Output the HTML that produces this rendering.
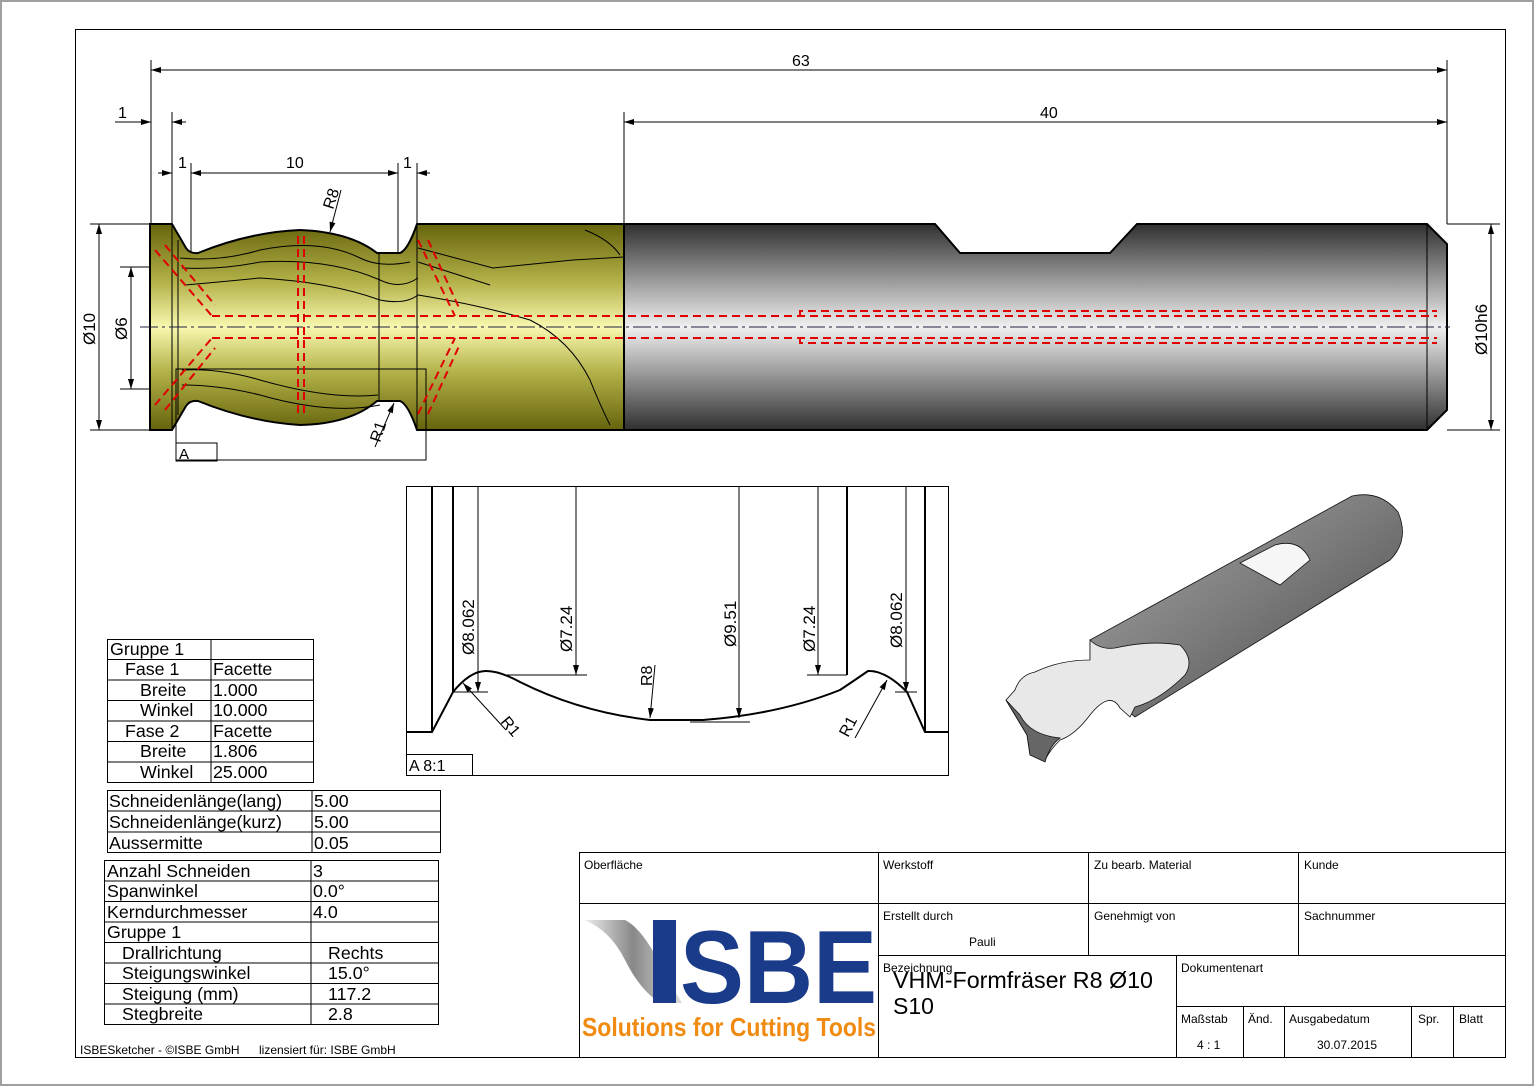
<!DOCTYPE html>
<html><head><meta charset="utf-8"><style>
html,body{margin:0;padding:0;background:#fff}
svg{display:block}
text{font-family:"Liberation Sans",Arial,sans-serif;fill:#000}
</style></head><body>
<svg width="1534" height="1086" viewBox="0 0 1534 1086" xmlns="http://www.w3.org/2000/svg">
<defs>
<linearGradient id="yel" x1="0" y1="0" x2="0" y2="1">
<stop offset="0" stop-color="#66640c"/><stop offset="0.28" stop-color="#b3b148"/><stop offset="0.5" stop-color="#f8f8b0"/><stop offset="0.72" stop-color="#b3b148"/><stop offset="1" stop-color="#66640c"/></linearGradient>
<linearGradient id="gry" x1="0" y1="0" x2="0" y2="1">
<stop offset="0" stop-color="#303030"/><stop offset="0.5" stop-color="#f0f0f0"/><stop offset="1" stop-color="#303030"/></linearGradient>
<linearGradient id="g3" x1="0" y1="0" x2="1" y2="1">
<stop offset="0" stop-color="#aaa"/><stop offset="0.5" stop-color="#7a7a7a"/><stop offset="1" stop-color="#444"/></linearGradient>
<linearGradient id="sw" x1="0" y1="0" x2="1" y2="0">
<stop offset="0" stop-color="#eee"/><stop offset="0.5" stop-color="#888"/><stop offset="1" stop-color="#ddd"/></linearGradient>
<marker id="a" markerWidth="10" markerHeight="6" refX="10" refY="3" orient="auto-start-reverse" markerUnits="userSpaceOnUse"><path d="M0,0 L10,3 L0,6z" fill="#000"/></marker>
</defs>
<rect x="0" y="0" width="1534" height="1086" fill="#fff" stroke="#a0a0a0" stroke-width="4"/>
<rect x="75.5" y="29.5" width="1430" height="1028" fill="none" stroke="#000"/>

<g stroke="#000" stroke-width="1" fill="none">
<line x1="151" y1="60" x2="151" y2="224"/><line x1="1447" y1="60" x2="1447" y2="224"/>
<line x1="151" y1="70" x2="1447" y2="70" marker-start="url(#a)" marker-end="url(#a)"/>
<line x1="624" y1="112" x2="624" y2="224"/>
<line x1="624" y1="122" x2="1447" y2="122" marker-start="url(#a)" marker-end="url(#a)"/>
<line x1="172" y1="112" x2="172" y2="224"/>
<line x1="115" y1="122" x2="151" y2="122" marker-end="url(#a)"/><line x1="186" y1="122" x2="172" y2="122" marker-end="url(#a)"/>
<line x1="191" y1="163" x2="191" y2="265"/><line x1="398" y1="163" x2="398" y2="265"/><line x1="417" y1="163" x2="417" y2="224"/>
<line x1="158" y1="173" x2="172" y2="173" marker-end="url(#a)"/>
<line x1="191" y1="173" x2="398" y2="173" marker-start="url(#a)" marker-end="url(#a)"/>
<line x1="430" y1="173" x2="417" y2="173" marker-end="url(#a)"/>
<line x1="90" y1="224" x2="150" y2="224"/><line x1="90" y1="430" x2="150" y2="430"/>
<line x1="99" y1="224" x2="99" y2="430" marker-start="url(#a)" marker-end="url(#a)"/>
<line x1="120" y1="267" x2="185" y2="267"/><line x1="120" y1="389" x2="185" y2="389"/>
<line x1="131" y1="267" x2="131" y2="389" marker-start="url(#a)" marker-end="url(#a)"/>
<line x1="1447" y1="224" x2="1500" y2="224"/><line x1="1447" y1="430" x2="1500" y2="430"/>
<line x1="1491" y1="224" x2="1491" y2="430" marker-start="url(#a)" marker-end="url(#a)"/>
<line x1="341" y1="190" x2="330" y2="232" marker-end="url(#a)"/>
<line x1="375" y1="447" x2="394" y2="403" marker-end="url(#a)"/>
</g>
<text x="792" y="66" font-size="16">63</text>
<text x="1040" y="118" font-size="16">40</text>
<text x="118" y="118" font-size="16">1</text>
<text x="178" y="168" font-size="16">1</text>
<text x="286" y="168" font-size="16">10</text>
<text x="403" y="168" font-size="16">1</text>
<text transform="translate(95,345) rotate(-90)" font-size="17">Ø10</text>
<text transform="translate(127,340) rotate(-90)" font-size="17">Ø6</text>
<text transform="translate(1487,355) rotate(-90)" font-size="17">Ø10h6</text>
<text transform="translate(333,210) rotate(-72)" font-size="16">R8</text>
<text transform="translate(380,443) rotate(-72)" font-size="16">R1</text>

<path d="M624,224 L935,224 L960,253 L1110,253 L1137,224 L1427,224 L1447,244 L1447,410 L1427,430 L624,430Z" fill="url(#gry)" stroke="#000" stroke-width="2"/>
<line x1="1427" y1="224" x2="1427" y2="430" stroke="#000"/>
<path d="M150,224 L172,224 L186,248 Q190,254 198,253 Q250,232 300,230 Q350,232 377,253 L400,253 Q408,250 417,224 L624,224 L624,430 L417,430 Q408,404 400,401 L377,401 Q350,424 300,425 Q250,422 198,401 Q190,400 186,406 L172,430 L150,430Z" fill="url(#yel)" stroke="#000" stroke-width="2"/>
<g stroke="#000" stroke-width="1" fill="none">
<line x1="172" y1="224" x2="172" y2="430"/><line x1="178" y1="240" x2="178" y2="415"/>
<line x1="379" y1="253" x2="379" y2="401"/><line x1="417" y1="224" x2="417" y2="430"/>
<path d="M180,258 Q220,262 260,250 Q320,238 360,258 Q380,268 410,262"/>
<path d="M182,268 Q220,270 260,262 Q330,258 380,280 Q400,290 418,278"/>
<path d="M185,285 Q220,282 260,278 Q330,282 380,300 Q405,305 418,295"/>
<path d="M182,370 Q220,368 260,380 Q330,400 378,395"/>
<path d="M182,385 Q220,385 260,395 Q330,415 380,405"/>
<path d="M418,248 L493,268 L573,260 L624,257"/>
<path d="M418,262 L490,285"/>
<path d="M418,295 Q480,305 530,320 Q570,340 590,380 Q600,405 610,425"/>
<path d="M585,230 Q610,240 620,255"/>
<rect x="176" y="369" width="250" height="91"/>
<rect x="176" y="443" width="41" height="18"/>
</g>
<text x="179" y="459" font-size="15">A</text>
<g stroke="#e00000" stroke-width="2" fill="none" stroke-dasharray="8,5">
<line x1="212" y1="316" x2="1437" y2="316"/><line x1="212" y1="338" x2="1437" y2="338"/>
<line x1="298" y1="236" x2="298" y2="414"/><line x1="304" y1="236" x2="304" y2="414"/>
<line x1="155" y1="250" x2="212" y2="316"/><line x1="165" y1="245" x2="215" y2="305"/>
<line x1="155" y1="405" x2="212" y2="338"/><line x1="165" y1="410" x2="215" y2="348"/>
<line x1="418" y1="240" x2="455" y2="316"/><line x1="428" y1="240" x2="460" y2="310"/>
<line x1="418" y1="414" x2="455" y2="338"/><line x1="428" y1="414" x2="460" y2="344"/>
<path d="M800,316 L800,311 L1437,311"/><path d="M800,338 L800,343 L1437,343"/>
</g>
<line x1="140" y1="327" x2="1450" y2="327" stroke="#202040" stroke-width="1" stroke-dasharray="18,4,3,4"/>

<rect x="406.5" y="486.5" width="542" height="289" fill="none" stroke="#000"/>
<g stroke="#000" fill="none">
<path d="M406,732 L432,732 L453,692 Q470,671 486,671 Q500,671 520,682 Q580,712 650,720 L703,720 Q780,714 840,690 Q855,680 868,671 Q885,670 907,692 L925,732 L949,732" stroke-width="2"/>
<line x1="432" y1="486" x2="432" y2="732" stroke-width="2"/><line x1="453" y1="486" x2="453" y2="692" stroke-width="2"/>
<line x1="847" y1="486" x2="847" y2="675" stroke-width="2"/><line x1="925" y1="486" x2="925" y2="732" stroke-width="2"/>
<line x1="478" y1="486" x2="478" y2="692" marker-end="url(#a)"/>
<line x1="576" y1="486" x2="576" y2="675" marker-end="url(#a)"/>
<line x1="739" y1="486" x2="739" y2="718" marker-end="url(#a)"/>
<line x1="818" y1="486" x2="818" y2="675" marker-end="url(#a)"/>
<line x1="906" y1="486" x2="906" y2="692" marker-end="url(#a)"/>
<line x1="453" y1="692" x2="488" y2="692"/><line x1="507" y1="675" x2="587" y2="675"/>
<line x1="690" y1="722" x2="750" y2="722"/><line x1="807" y1="675" x2="847" y2="675"/>
<line x1="895" y1="692" x2="917" y2="692"/>
<line x1="506" y1="730" x2="463" y2="683" marker-end="url(#a)"/>
<line x1="655" y1="665" x2="650" y2="718" marker-end="url(#a)"/>
<line x1="855" y1="738" x2="887" y2="680" marker-end="url(#a)"/>
<rect x="406.5" y="754.5" width="66" height="21"/>
</g>
<text x="409" y="771" font-size="16">A 8:1</text>
<text transform="translate(474,655) rotate(-90)" font-size="17">Ø8.062</text>
<text transform="translate(572,652) rotate(-90)" font-size="17">Ø7.24</text>
<text transform="translate(736,647) rotate(-90)" font-size="17">Ø9.51</text>
<text transform="translate(815,652) rotate(-90)" font-size="17">Ø7.24</text>
<text transform="translate(902,648) rotate(-90)" font-size="17">Ø8.062</text>
<text transform="translate(652,686) rotate(-90)" font-size="16">R8</text>
<text transform="translate(500,722) rotate(50)" font-size="16">R1</text>
<text transform="translate(848,738) rotate(-62)" font-size="16">R1</text>

<g stroke="#111" stroke-width="0.8">
<path d="M1352,496 Q1380,490 1398,512 Q1410,540 1390,560 L1135,717 L1090,680 L1090,640Z" fill="url(#g3)"/>
<path d="M1090,640 Q1100,650 1115,648 Q1150,640 1180,645 Q1195,660 1185,675 Q1160,700 1135,707 L1130,717 L1120,708 Q1110,690 1090,715 Q1075,735 1060,740 Q1050,750 1045,760 L1030,755 L1027,735 L1006,700 L1015,690 Q1020,675 1035,672 Q1060,660 1090,660Z" fill="#e8e8e8"/>
<path d="M1240,563 L1275,545 Q1300,538 1310,560 L1280,585Z" fill="#f6f6f6"/>
<path d="M1006,700 L1027,735 L1030,755 L1045,762 Q1050,745 1060,738 Q1030,735 1020,715Z" fill="#666"/>
</g>

<g stroke="#000" fill="none">
<rect x="107.5" y="639.5" width="206" height="143"/>
<line x1="211" y1="639" x2="211" y2="782"/>
<line x1="107" y1="659.5" x2="313" y2="659.5"/><line x1="107" y1="680" x2="313" y2="680"/><line x1="107" y1="700.5" x2="313" y2="700.5"/><line x1="107" y1="721" x2="313" y2="721"/><line x1="107" y1="741.5" x2="313" y2="741.5"/><line x1="107" y1="762" x2="313" y2="762"/>
<rect x="107.5" y="790.5" width="333" height="62"/>
<line x1="312" y1="790" x2="312" y2="852"/><line x1="107" y1="811" x2="440" y2="811"/><line x1="107" y1="832" x2="440" y2="832"/>
<rect x="104.5" y="860.5" width="334" height="164"/>
<line x1="311" y1="860" x2="311" y2="1024"/>
<line x1="104" y1="881" x2="438" y2="881"/><line x1="104" y1="901.5" x2="438" y2="901.5"/><line x1="104" y1="922" x2="438" y2="922"/><line x1="104" y1="942.5" x2="438" y2="942.5"/><line x1="104" y1="963" x2="438" y2="963"/><line x1="104" y1="983.5" x2="438" y2="983.5"/><line x1="104" y1="1004" x2="438" y2="1004"/>
</g>
<g font-size="17.8">
<text x="110" y="655">Gruppe 1</text>
<text x="125" y="675">Fase 1</text><text x="213" y="675">Facette</text>
<text x="140" y="696">Breite</text><text x="213" y="696">1.000</text>
<text x="140" y="716">Winkel</text><text x="213" y="716">10.000</text>
<text x="125" y="737">Fase 2</text><text x="213" y="737">Facette</text>
<text x="140" y="757">Breite</text><text x="213" y="757">1.806</text>
<text x="140" y="778">Winkel</text><text x="213" y="778">25.000</text>
<text x="109" y="807">Schneidenlänge(lang)</text><text x="314" y="807">5.00</text>
<text x="109" y="828">Schneidenlänge(kurz)</text><text x="314" y="828">5.00</text>
<text x="109" y="849">Aussermitte</text><text x="314" y="849">0.05</text>
<text x="107" y="877">Anzahl Schneiden</text><text x="313" y="877">3</text>
<text x="107" y="897">Spanwinkel</text><text x="313" y="897">0.0°</text>
<text x="107" y="918">Kerndurchmesser</text><text x="313" y="918">4.0</text>
<text x="107" y="938">Gruppe 1</text>
<text x="122" y="959">Drallrichtung</text><text x="328" y="959">Rechts</text>
<text x="122" y="979">Steigungswinkel</text><text x="328" y="979">15.0°</text>
<text x="122" y="1000">Steigung (mm)</text><text x="328" y="1000">117.2</text>
<text x="122" y="1020">Stegbreite</text><text x="328" y="1020">2.8</text>
</g>
<text x="80" y="1054" font-size="12">ISBESketcher - ©ISBE GmbH</text>
<text x="259" y="1054" font-size="12">lizensiert für: ISBE GmbH</text>

<g stroke="#000" fill="none">
<rect x="579.5" y="852.5" width="926" height="205"/>
<line x1="579" y1="903.5" x2="1505" y2="903.5"/>
<line x1="878" y1="955.5" x2="1505" y2="955.5"/>
<line x1="1176" y1="1006.5" x2="1505" y2="1006.5"/>
<line x1="878.5" y1="852" x2="878.5" y2="1057"/>
<line x1="1088.5" y1="852" x2="1088.5" y2="955"/>
<line x1="1298.5" y1="852" x2="1298.5" y2="955"/>
<line x1="1176.5" y1="955" x2="1176.5" y2="1057"/>
<line x1="1243.5" y1="1006" x2="1243.5" y2="1057"/>
<line x1="1284.5" y1="1006" x2="1284.5" y2="1057"/>
<line x1="1411.5" y1="1006" x2="1411.5" y2="1057"/>
<line x1="1453.5" y1="1006" x2="1453.5" y2="1057"/>
</g>
<g font-size="12">
<text x="584" y="869">Oberfläche</text><text x="883" y="869">Werkstoff</text><text x="1094" y="869">Zu bearb. Material</text><text x="1304" y="869">Kunde</text>
<text x="883" y="920">Erstellt durch</text><text x="969" y="946">Pauli</text><text x="1094" y="920">Genehmigt von</text><text x="1304" y="920">Sachnummer</text>
<text x="883" y="972">Bezeichnung</text><text x="1181" y="972">Dokumentenart</text>
<text x="1181" y="1023">Maßstab</text><text x="1197" y="1049">4 : 1</text><text x="1248" y="1023">Änd.</text><text x="1289" y="1023">Ausgabedatum</text><text x="1317" y="1049">30.07.2015</text><text x="1418" y="1023">Spr.</text><text x="1459" y="1023">Blatt</text>
</g>
<text x="893" y="988" font-size="23" textLength="260" lengthAdjust="spacingAndGlyphs">VHM-Formfräser R8 Ø10</text>
<text x="893" y="1014" font-size="23">S10</text>
<path d="M584,920 L625,920 Q645,930 665,975 L682,1003 L660,1003 Q640,990 625,960 Q610,930 584,920Z" fill="url(#sw)"/>
<rect x="653" y="920" width="23" height="83" fill="#1a3a8a"/>
<text x="680" y="1003" font-size="104" font-weight="bold" textLength="197" lengthAdjust="spacingAndGlyphs" style="fill:#1a3a8a">SBE</text>
<text x="582" y="1036" font-size="26" font-weight="bold" style="fill:#f08a10" textLength="294" lengthAdjust="spacingAndGlyphs">Solutions for Cutting Tools</text>
</svg>
</body></html>
